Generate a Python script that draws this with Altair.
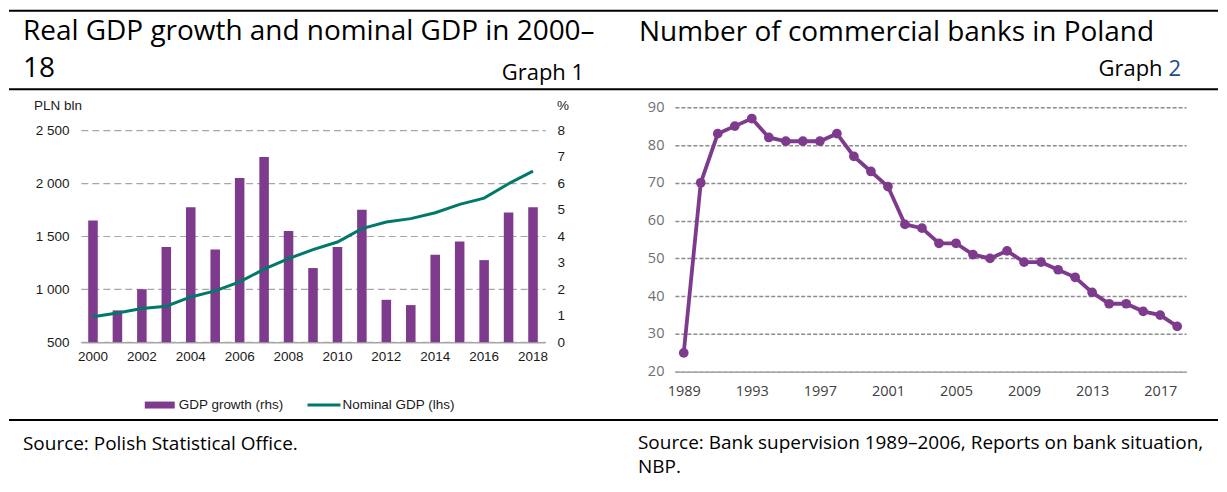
import altair as alt
import pandas as pd

# ---------------- data ----------------
years_gdp = list(range(2000, 2019))
gdp_growth = [4.6, 1.2, 2.0, 3.6, 5.1, 3.5, 6.2, 7.0, 4.2, 2.8, 3.6, 5.0, 1.6, 1.4, 3.3, 3.8, 3.1, 4.9, 5.1]
nominal_gdp = [739, 776, 818, 840, 927, 984, 1069, 1189, 1289, 1374, 1446, 1573, 1635, 1667, 1723, 1802, 1861, 1997, 2116]

years_banks = list(range(1989, 2019))
banks = [25, 70, 83, 85, 87, 82, 81, 81, 81, 83, 77, 73, 69, 59, 58,
         54, 54, 51, 50, 52, 49, 49, 47, 45, 41, 38, 38, 36, 35, 32]

left_ticks_lhs = [500, 1000, 1500, 2000, 2500]
left_ticks_rhs = [0, 1, 2, 3, 4, 5, 6, 7, 8]
left_x_ticks = years_gdp[::2]
right_y_ticks = [20, 30, 40, 50, 60, 70, 80, 90]
right_x_ticks = years_banks[::4]

left_title_lines = ["Real GDP growth and nominal GDP in 2000\u2013", "18"]
left_graph_label = "Graph 1"
right_title = "Number of commercial banks in Poland"
right_graph_word = "Graph"
right_graph_num = "2"
left_unit_lhs = "PLN bln"
left_unit_rhs = "%"
legend_labels = ["GDP growth (rhs)", "Nominal GDP (lhs)"]
left_source = "Source: Polish Statistical Office."
right_source_lines = ["Source: Bank supervision 1989\u20132006, Reports on bank situation,", "NBP."]

PURPLE = "#7E3A8C"
TEAL = "#00796B"
HEAD_FONT = "Open Sans"
ARIAL = "Liberation Sans"

# ---------------- helpers for decorations ----------------
def text(s, x, y, size, font=HEAD_FONT, align="left", baseline="alphabetic", color="black"):
    return alt.Chart(pd.DataFrame({"t": [s]})).mark_text(
        align=align, baseline=baseline, font=font, fontSize=size, color=color
    ).encode(x=alt.value(x), y=alt.value(y), text="t:N")


def hrule(x1, x2, y, color="black", width=2, opacity=1):
    return alt.Chart(pd.DataFrame({"a": [0]})).mark_rule(
        color=color, strokeWidth=width, opacity=opacity
    ).encode(x=alt.value(x1), x2=alt.value(x2), y=alt.value(y))


# ---------------- left panel ----------------
W1, H1, TOP1 = 465, 235.3, 23.3
df1 = pd.DataFrame({"year": years_gdp, "growth": gdp_growth, "nominal": nominal_gdp})

x1 = alt.X(
    "year:O",
    scale=alt.Scale(paddingInner=0.61, paddingOuter=0.3),
    axis=alt.Axis(values=left_x_ticks, labelAngle=0, title=None, ticks=False,
                  domainColor="#a6a6a6", domainWidth=1.5, labelPadding=7,
                  labelFont=ARIAL, labelFontSize=13.5, labelColor="#1a1a1a"),
)

bars = alt.Chart(df1).mark_bar(color=PURPLE).encode(
    x=x1,
    y=alt.Y("growth:Q",
            scale=alt.Scale(domain=[0, 8], range=[H1, TOP1], nice=False, zero=True),
            axis=alt.Axis(orient="right", values=left_ticks_rhs, grid=False, domain=False,
                          ticks=False, title=None, labelPadding=12, labelFont=ARIAL,
                          labelFontSize=13.5, labelColor="#1a1a1a")),
)

gdp_line = alt.Chart(df1).mark_line(color=TEAL, strokeWidth=3).encode(
    x=x1,
    y=alt.Y("nominal:Q",
            scale=alt.Scale(domain=[500, 2500], range=[H1, TOP1], nice=False, zero=False),
            axis=alt.Axis(orient="left", values=left_ticks_lhs, grid=True, gridDash=[7, 4],
                          gridColor="#a6a6a6", gridWidth=1.2, domain=False, ticks=False,
                          title=None, labelPadding=12, labelFont=ARIAL, labelFontSize=13.5,
                          labelColor="#1a1a1a",
                          labelExpr="replace(format(datum.value, ','), ',', ' ')")),
)

# origin of left plot in page coords: (80, 106.7)
left_decor = [
    hrule(-72, -70, -98.2, width=1, opacity=0),          # anchors the canvas origin
    hrule(-72, 1139, -96.7),                             # top rule
    hrule(-72, 1139, -17.9),                             # rule under headings
    hrule(-72, 1139, 313.3),                             # rule above sources
    text(left_title_lines[0], -58, -67.2, 28),
    text(left_title_lines[1], -58, -30.2, 28),
    text(left_graph_label, 504, -27.7, 22, align="right"),
    text(left_unit_lhs, -47, 2.8, 13.5, font=ARIAL, color="#1a1a1a"),
    text(left_unit_rhs, 477, 2.8, 13.5, font=ARIAL, color="#1a1a1a"),
    alt.Chart(pd.DataFrame({"a": [0]})).mark_rect(color=PURPLE).encode(
        x=alt.value(64), x2=alt.value(94), y=alt.value(294.8), y2=alt.value(301.8)),
    text(legend_labels[0], 98, 298.3, 13.5, font=ARIAL, baseline="middle", color="#1a1a1a"),
    hrule(227, 260, 298.3, color=TEAL, width=3),
    text(legend_labels[1], 262, 298.3, 13.5, font=ARIAL, baseline="middle", color="#1a1a1a"),
    text(left_source, -58, 343.3, 19),
]

left = alt.layer(bars, gdp_line, *left_decor).resolve_scale(y="independent").properties(
    width=W1, height=H1
)

# ---------------- right panel ----------------
W2, H2 = 512, 265
df2 = pd.DataFrame({"year": years_banks, "banks": banks})

bank_line = alt.Chart(df2).mark_line(
    color=PURPLE, strokeWidth=3.8,
    point=alt.OverlayMarkDef(filled=True, size=95, color=PURPLE, opacity=1),
).encode(
    x=alt.X("year:O",
            scale=alt.Scale(type="point", padding=0.52),
            axis=alt.Axis(values=right_x_ticks, labelAngle=0, title=None, ticks=False,
                          domainColor="#a6a6a6", domainWidth=1.5, labelPadding=13,
                          labelFont=HEAD_FONT, labelFontSize=14.5, labelColor="#404040")),
    y=alt.Y("banks:Q",
            scale=alt.Scale(domain=[20, 90], nice=False, zero=False),
            axis=alt.Axis(values=right_y_ticks, grid=True, gridDash=[4, 2], gridColor="#8c8c8c",
                          gridWidth=1.5, domain=False, ticks=False, title=None, labelPadding=11,
                          labelFont=HEAD_FONT, labelFontSize=14.5, labelColor="#6f6f6f")),
)

# origin of right plot in page coords: (675, 106.7)
right_decor = [
    text(right_title, -36, -66.7, 28),
    text(right_graph_word, 488.5, -31.7, 22, align="right"),
    text(right_graph_num, 507, -31.7, 22, align="right", color="#1F4E8C"),
    text(right_source_lines[0], -37, 342.3, 19),
    text(right_source_lines[1], -37, 366.3, 19),
]

right = alt.layer(bank_line, *right_decor).properties(width=W2, height=H2)

chart = alt.hconcat(left, right, spacing=130, bounds="flush", padding=0).configure_view(
    stroke=None
)

chart.save("out.html", embed_options={"renderer": "svg", "actions": False})
